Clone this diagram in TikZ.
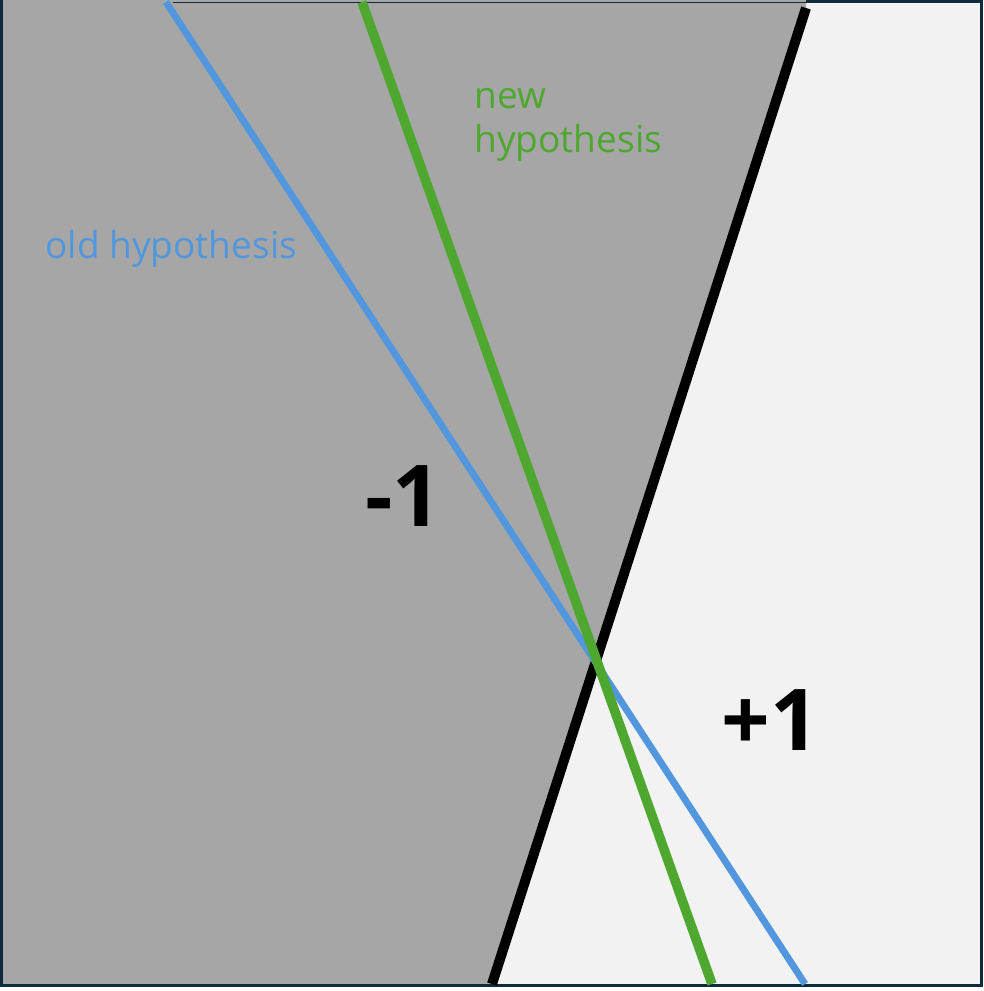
\documentclass[tikz,border=0pt]{standalone}
\usepackage{fontspec}
\setmainfont{Open Sans}
\definecolor{oldblue}{RGB}{82,151,221}
\definecolor{newgreen}{RGB}{78,167,46}
\definecolor{negfill}{RGB}{166,166,166}
\definecolor{posfill}{RGB}{242,242,242}
\definecolor{frameblue}{RGB}{14,42,59}
\begin{document}
\begin{tikzpicture}[x=0.75pt,y=-0.75pt,
  hyp/.style={line cap=butt},
  lbl/.style={inner sep=0pt,anchor=base west,font=\fontsize{27.8}{33}\selectfont},
  big/.style={inner sep=0pt,anchor=base west,font=\fontsize{64}{70}\selectfont\bfseries}]
\useasboundingbox (0,0) rectangle (983,991);
\fill[white] (0,0) rectangle (983,991);
% regions
\fill[posfill] (0,0) rectangle (980,984);
\coordinate (btop) at (806,8);
\coordinate (bbot) at (492,984);
\fill[negfill] (0,0) -- (806,0) -- (btop) -- (bbot) -- (0,984) -- cycle;
% frame
\draw[frameblue,line width=2.25pt] (1.5,0) -- (1.5,985.5) -- (981,985.5) -- (981,2) -- (806,2);
\draw[frameblue,line width=1.2pt] (806,2.5) -- (173,2.5);
\fill[negfill] (2.5,0) rectangle (173,5);
\fill[negfill] (173,4) rectangle (806,6);
% separating line and hypotheses
\coordinate (otop) at (166,2);
\coordinate (obot) at (805,984);
\coordinate (ntop) at (362,2);
\coordinate (nbot) at (712,984);
\draw[hyp,black,line width=7.5pt] (btop) -- (bbot);
\draw[hyp,oldblue,line width=5.2pt] (otop) -- (obot);
\draw[hyp,newgreen,line width=7.2pt] (ntop) -- (nbot);
% labels
\node[lbl,text=oldblue] (oldlbl) at (45,258) {old hypothesis};
\node[lbl,text=newgreen,align=left] (newlbl) at (474,153) {new\\hypothesis};
\node[big] (neg) at (365,526) {-1};
\node[big] (pos) at (721,750) {+1};
\end{tikzpicture}
\end{document}
